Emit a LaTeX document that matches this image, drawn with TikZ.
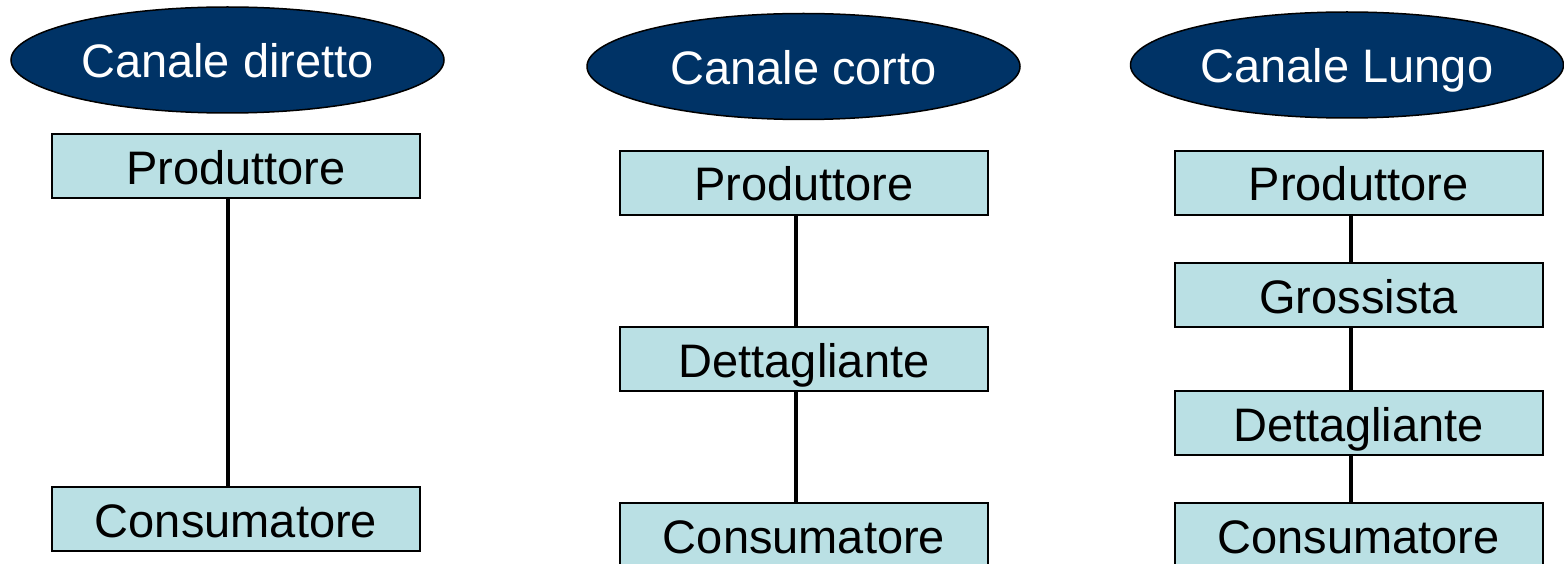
\documentclass[tikz,border=0pt]{standalone}
\usepackage{fontspec}
\setmainfont{Liberation Sans}
\usepackage{tikz}
\usetikzlibrary{shapes.geometric}
\definecolor{navy}{HTML}{003366}
\definecolor{boxcyan}{HTML}{BAE0E4}

\begin{document}
\begin{tikzpicture}[x=1pt, y=-1pt,
  channel/.style={ellipse, draw=black, line width=1.5pt, fill=navy, text=white,
    minimum width=433pt, minimum height=106pt, inner sep=0pt,
    font=\fontsize{47}{50}\selectfont, text height=36pt, text depth=0pt},
  actor/.style={rectangle, draw=black, line width=2pt, fill=boxcyan,
    minimum width=368pt, minimum height=64pt, inner sep=0pt,
    font=\fontsize{47}{50}\selectfont, text height=36pt, text depth=0pt},
  link/.style={line width=4pt}]

  \useasboundingbox (0,0) rectangle (1564,564);

  \newcommand\A{236};
  \newcommand\B{804};
  \newcommand\C{1358.5};

  % canale diretto
  \node[channel] (dir) at (227.5, 60) {Canale diretto};
  \node[actor] (dirP) at (\A, 166.5) {Produttore};
  \node[actor] (dirC) at (\A, 519) {Consumatore};

  % canale corto
  \node[channel] (cor) at (803.5, 66.5) {Canale corto};
  \node[actor] (corP) at (\B, 183) {Produttore};
  \node[actor] (corD) at (\B, 359) {Dettagliante};
  \node[actor] (corC) at (\B, 535) {Consumatore};

  % canale lungo
  \node[channel] (lun) at (1347, 65) {Canale Lungo};
  \node[actor] (lunP) at (\C, 183) {Produttore};
  \node[actor] (lunG) at (\C, 295) {Grossista};
  \node[actor] (lunD) at (\C, 423) {Dettagliante};
  \node[actor] (lunC) at (\C, 535) {Consumatore};

  \draw[link] ([xshift=-8pt]dirP.south) -- ([xshift=-8pt]dirC.north); % P-C
  \draw[link] ([xshift=-8pt]corP.south) -- ([xshift=-8pt]corD.north); % P-D
  \draw[link] ([xshift=-8pt]corD.south) -- ([xshift=-8pt]corC.north); % D-C
  \draw[link] ([xshift=-8pt]lunP.south) -- ([xshift=-8pt]lunG.north); % P-G
  \draw[link] ([xshift=-8pt]lunG.south) -- ([xshift=-8pt]lunD.north); % G-D
  \draw[link] ([xshift=-8pt]lunD.south) -- ([xshift=-8pt]lunC.north); % D-C

\end{tikzpicture}
\end{document}
